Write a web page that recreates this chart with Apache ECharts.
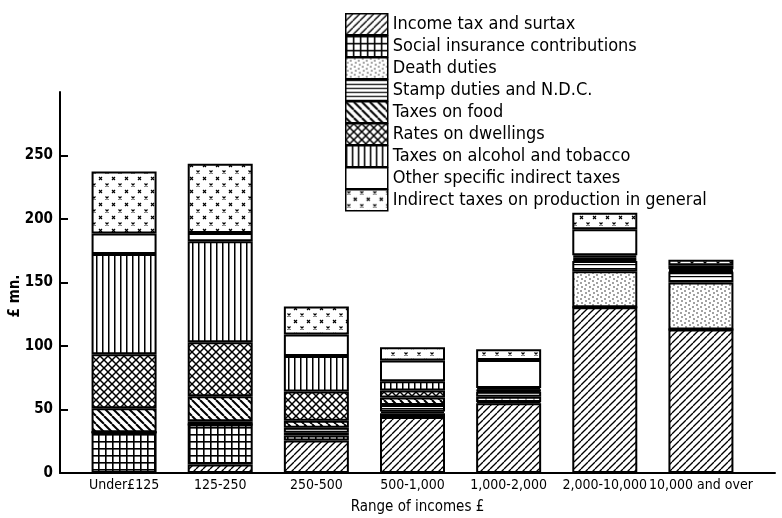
<!DOCTYPE html>
<html>
<head>
<meta charset="utf-8">
<script src="https://cdn.jsdelivr.net/npm/echarts@6/dist/echarts.min.js"></script>
<style>
  html, body { margin: 0; padding: 0; background: #fff; }
  #chart { width: 782px; height: 518px; }
</style>
</head>
<body>
<div id="chart"></div>
<script>
// income ranges
const categories = ['Under£125', '125-250', '250-500', '500-1,000', '1,000-2,000', '2,000-10,000', '10,000 and over'];
const yTicks = [0, 50, 100, 150, 200, 250];

// £ mn. per range, bottom of the stack first
const incomeTax = [0, 6.7, 25.6, 44, 55, 130.6, 113];
const socialInsurance = [32, 31.5, 4, 3, 1, 0, 0];
const deathDuties = [0, 0, 2, 1.5, 4, 28.3, 37];
const stampDuties = [0, 2.6, 4, 5, 4, 8, 8];
const foodTaxes = [19, 19.7, 5.5, 6, 1, 1.5, 0.5];
const ratesDwellings = [42.5, 42.5, 23, 5.5, 0.5, 1.5, 1];
const alcoholTobacco = [79, 79.5, 28, 7.3, 1.5, 1.5, 1];
const otherSpecific = [16, 6.5, 17, 16.3, 22, 20.5, 3];
const indirectProduction = [49, 54.6, 22, 10.5, 8.5, 13, 4.5];

const FONT = 'DejaVu Sans Condensed';

// small canvas tiles used as hatch fills
function tile (w, h, draw) {
    const c = document.createElement('canvas');
    c.width = w;
    c.height = h;
    const ctx = c.getContext('2d');
    ctx.fillStyle = '#fff';
    ctx.fillRect(0, 0, w, h);
    ctx.strokeStyle = '#000';
    ctx.fillStyle = '#000';
    draw(ctx, w, h);
    return { image: c, repeat: 'repeat' };
}

const patterns = {
    slash: tile(7, 7, (ctx, s) => { // ////
        ctx.lineWidth = 1.3;
        for (let k = -1; k <= 1; k++) {
            ctx.beginPath(); ctx.moveTo(k * s, s); ctx.lineTo(k * s + s, 0); ctx.stroke();
        }
    }),
    grid: tile(7, 7, (ctx, s) => {
        ctx.fillRect(0, 0, s, 1.6);
        ctx.fillRect(0, 0, 1.6, s);
    }),
    dots: tile(8, 8, (ctx) => {
        [[1, 1], [5, 3], [2, 5], [6, 7]].forEach(([x, y]) => {
            ctx.beginPath(); ctx.arc(x, y, 0.7, 0, Math.PI * 2); ctx.fill();
        });
    }),
    hlines: tile(4, 4, (ctx, w) => {
        ctx.fillRect(0, 0, w, 1.2);
    }),
    backslash: tile(8, 8, (ctx, s) => { // \\\\
        ctx.lineWidth = 2;
        for (let k = -1; k <= 1; k++) {
            ctx.beginPath(); ctx.moveTo(k * s, 0); ctx.lineTo(k * s + s, s); ctx.stroke();
        }
    }),
    cross: tile(8, 8, (ctx, s) => {
        ctx.lineWidth = 1.5;
        for (let k = -1; k <= 1; k++) {
            ctx.beginPath(); ctx.moveTo(k * s, 0); ctx.lineTo(k * s + s, s); ctx.stroke();
            ctx.beginPath(); ctx.moveTo(k * s, s); ctx.lineTo(k * s + s, 0); ctx.stroke();
        }
    }),
    vlines: tile(6, 6, (ctx, w, h) => {
        ctx.fillRect(0, 0, 1.5, h);
    }),
    xs: tile(13, 13, (ctx) => {
        ctx.lineWidth = 1.2;
        [[3, 3], [9.5, 9.5]].forEach(([x, y]) => {
            ctx.beginPath();
            ctx.moveTo(x - 1.5, y - 1.5); ctx.lineTo(x + 1.5, y + 1.5);
            ctx.moveTo(x + 1.5, y - 1.5); ctx.lineTo(x - 1.5, y + 1.5);
            ctx.stroke();
        });
    })
};

const layers = [
    { name: 'Income tax and surtax', data: incomeTax, fill: patterns.slash },
    { name: 'Social insurance contributions', data: socialInsurance, fill: patterns.grid },
    { name: 'Death duties', data: deathDuties, fill: patterns.dots },
    { name: 'Stamp duties and N.D.C.', data: stampDuties, fill: patterns.hlines },
    { name: 'Taxes on food', data: foodTaxes, fill: patterns.backslash },
    { name: 'Rates on dwellings', data: ratesDwellings, fill: patterns.cross },
    { name: 'Taxes on alcohol and tobacco', data: alcoholTobacco, fill: patterns.vlines },
    { name: 'Other specific indirect taxes', data: otherSpecific, fill: '#fff' },
    { name: 'Indirect taxes on production in general', data: indirectProduction, fill: patterns.xs }
];

const chart = echarts.init(document.getElementById('chart'), null, { renderer: 'canvas' });

const axisLineStyle = { color: '#000', width: 2 };

chart.setOption({
    animation: false,
    backgroundColor: '#fff',
    grid: [
        { left: 76, right: 33, top: 92, bottom: 45, outerBoundsMode: 'none' }, // bars
        { left: 60, right: 7, top: 92, bottom: 45, outerBoundsMode: 'none' }   // full-width baseline
    ],
    legend: {
        orient: 'vertical',
        left: 345,
        top: 13,
        padding: 0,
        itemWidth: 42,
        itemHeight: 21,
        itemGap: -0.5,
        icon: 'rect',
        selectedMode: false,
        itemStyle: { borderColor: '#000', borderWidth: 1.5 },
        textStyle: { color: '#000', fontFamily: FONT, fontSize: 18 },
        data: layers.map(l => l.name)
    },
    xAxis: [{
        type: 'category',
        gridIndex: 0,
        data: categories,
        axisLine: { show: true, lineStyle: axisLineStyle },
        axisTick: { show: false },
        axisLabel: { color: '#000', fontFamily: FONT, fontSize: 14, margin: 5, interval: 0 }
    }, {
        type: 'value',
        gridIndex: 1,
        min: 0,
        max: 1,
        splitLine: { show: false },
        axisLine: { show: true, lineStyle: axisLineStyle },
        axisTick: { show: false },
        axisLabel: { show: false },
        name: 'Range of incomes £',
        nameLocation: 'middle',
        nameGap: 27,
        nameTextStyle: { color: '#000', fontFamily: FONT, fontSize: 15 }
    }],
    yAxis: [{
        type: 'value',
        gridIndex: 0,
        min: 0,
        max: 300,
        interval: 50,
        offset: 16,
        splitLine: { show: false },
        axisLine: { show: true, onZero: false, lineStyle: axisLineStyle },
        axisTick: {
            show: true,
            inside: true,
            length: 8,
            customValues: yTicks.slice(1),
            lineStyle: axisLineStyle
        },
        axisLabel: {
            customValues: yTicks,
            color: '#000',
            fontFamily: FONT,
            fontWeight: 'bold',
            fontSize: 15,
            margin: 7
        }
    }, {
        type: 'value',
        gridIndex: 1,
        show: false,
        min: 0,
        max: 300
    }],
    graphic: [{
        type: 'text',
        x: 15,
        y: 296,
        rotation: Math.PI / 2,
        style: {
            text: '£ mn.',
            fill: '#000',
            font: 'bold 15px "' + FONT + '"',
            align: 'center',
            verticalAlign: 'middle'
        }
    }],
    series: layers.map(l => ({
        name: l.name,
        type: 'bar',
        stack: 'taxes',
        barWidth: 65,
        xAxisIndex: 0,
        yAxisIndex: 0,
        itemStyle: { color: l.fill, borderColor: '#000', borderWidth: 2 },
        data: l.data
    }))
});
</script>
</body>
</html>
